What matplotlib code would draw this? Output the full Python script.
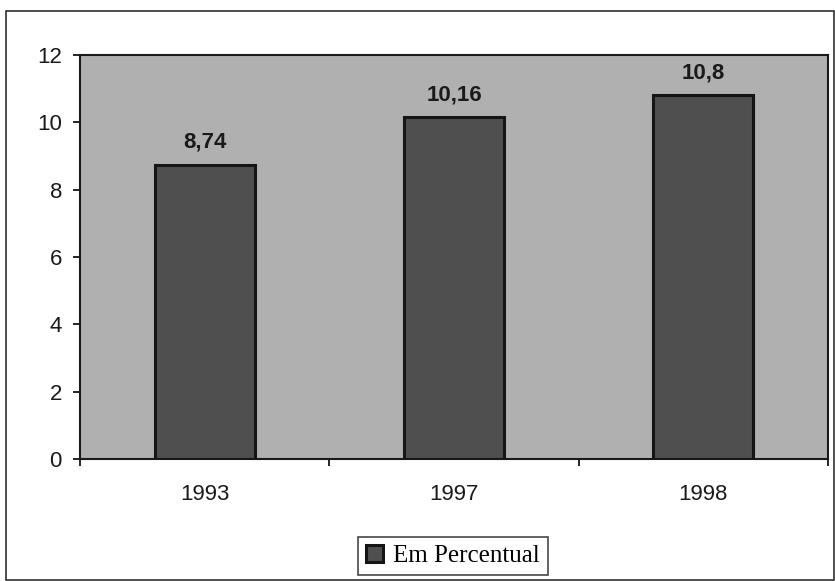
import matplotlib.pyplot as plt
from matplotlib.patches import Rectangle

years = ["1993", "1997", "1998"]
valores = [8.74, 10.16, 10.8]
rotulos = ["8,74", "10,16", "10,8"]

fig = plt.figure(figsize=(8.35, 5.81), dpi=100)
fig.patch.set_facecolor("white")

# moldura externa
fig.patches.append(Rectangle((6 / 835, 1 / 581), 828 / 835, 569 / 581,
                             transform=fig.transFigure, fill=False,
                             edgecolor="#303030", linewidth=1.2))

ax = fig.add_axes([80 / 835, 1 - 459 / 581, 748 / 835, 404 / 581])
ax.set_facecolor("#b0b0b0")

x = list(range(len(years)))
ax.bar(x, valores, width=0.4, color="#4f4f4f", edgecolor="#151515",
       linewidth=2.2, label="Em Percentual", zorder=3)

for xi, v, r in zip(x, valores, rotulos):
    ax.text(xi, v + 0.35, r, ha="center", va="bottom", fontsize=16,
            fontweight="bold", family="Liberation Sans", color="#1a1a1a")

ax.set_xlim(-0.5, 2.5)
ax.set_ylim(0, 12)
ax.set_yticks(range(0, 13, 2))
ax.set_xticks(x)
ax.set_xticklabels(years)
ax.set_xticks([-0.5, 0.5, 1.5, 2.5], minor=True)
ax.tick_params(axis="x", which="major", length=0, pad=18, labelsize=16)
ax.tick_params(axis="x", which="minor", length=5, width=1.2, direction="out")
ax.tick_params(axis="y", length=5, width=1.2, labelsize=16, pad=8)
for lab in ax.get_xticklabels() + ax.get_yticklabels():
    lab.set_family("Liberation Sans")
    lab.set_color("#1a1a1a")

for s in ax.spines.values():
    s.set_color("#1a1a1a")
    s.set_linewidth(1.5)

leg = fig.legend(loc="center", bbox_to_anchor=(453 / 835, 1 - 556 / 581),
                 prop={"family": "Liberation Serif", "size": 18},
                 frameon=True, fancybox=False, handlelength=0.7,
                 handleheight=0.7, handletextpad=0.4, borderpad=0.3)
leg.get_frame().set_edgecolor("#1a1a1a")
leg.get_frame().set_linewidth(1.2)

fig.savefig("out.png", dpi=100)
